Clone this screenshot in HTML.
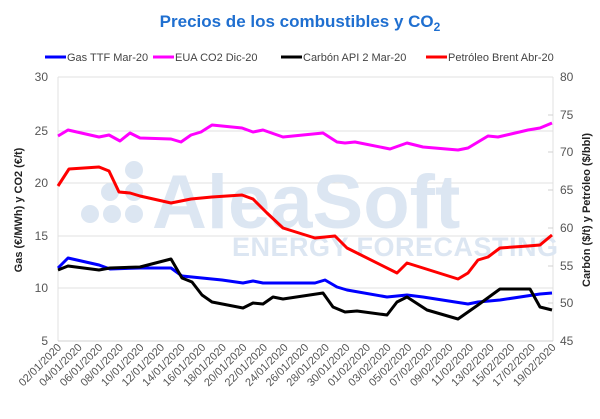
<!DOCTYPE html>
<html><head><meta charset="utf-8"><style>
body{margin:0;background:#fff;}
svg{font-family:"Liberation Sans",sans-serif;}
</style></head><body>
<svg width="600" height="414" viewBox="0 0 600 414">
<rect width="600" height="414" fill="#fff"/>
<text x="300" y="27" text-anchor="middle" font-size="17" font-weight="bold" fill="#1f6fd0">Precios de los combustibles y CO<tspan font-size="12" dy="4">2</tspan></text>
<!-- legend -->
<g font-size="11" fill="#444">
<line x1="45" y1="57" x2="66" y2="57" stroke="#0000ff" stroke-width="3"/><text x="67" y="61">Gas TTF Mar-20</text>
<line x1="153" y1="57" x2="174" y2="57" stroke="#ff00ff" stroke-width="3"/><text x="175" y="61">EUA CO2 Dic-20</text>
<line x1="281" y1="57" x2="302" y2="57" stroke="#000" stroke-width="3"/><text x="303" y="61">Carbón API 2 Mar-20</text>
<line x1="426" y1="57" x2="447" y2="57" stroke="#ff0000" stroke-width="3"/><text x="448" y="61">Petróleo Brent Abr-20</text>
</g>
<!-- grid -->
<g stroke="#e0e0e0" stroke-width="1">
<line x1="58" y1="77" x2="553" y2="77"/><line x1="58" y1="131" x2="553" y2="131"/>
<line x1="58" y1="183" x2="553" y2="183"/><line x1="58" y1="236" x2="553" y2="236"/>
<line x1="58" y1="288" x2="553" y2="288"/>
<line x1="58" y1="77" x2="58" y2="341"/><line x1="553" y1="77" x2="553" y2="341"/>
</g>
<line x1="58" y1="341" x2="553" y2="341" stroke="#d0d0d0"/>
<g stroke="#d0d0d0">
<line x1="553" y1="115" x2="548" y2="115"/><line x1="553" y1="152" x2="548" y2="152"/><line x1="553" y1="190" x2="548" y2="190"/><line x1="553" y1="228" x2="548" y2="228"/><line x1="553" y1="266" x2="548" y2="266"/><line x1="553" y1="303" x2="548" y2="303"/>
</g>
<!-- watermark -->
<g fill="#dce6f2">
<circle cx="134" cy="170" r="9"/><circle cx="110" cy="192" r="9"/><circle cx="134" cy="192" r="9"/><circle cx="90" cy="214" r="9"/><circle cx="112" cy="214" r="9"/><circle cx="134" cy="214" r="9"/>
<text x="152" y="228" font-size="76" font-weight="bold">AleaSoft</text>
<text x="232" y="256" font-size="27" font-weight="bold" letter-spacing="0.5">ENERGY FORECASTING</text>
</g>
<!-- y labels -->
<g font-size="12" fill="#555" text-anchor="end">
<text x="48" y="81">30</text><text x="48" y="135">25</text><text x="48" y="187">20</text><text x="48" y="240">15</text><text x="48" y="292">10</text><text x="48" y="345">5</text>
</g>
<g font-size="12" fill="#555">
<text x="560" y="81">80</text><text x="560" y="119">75</text><text x="560" y="156">70</text><text x="560" y="194">65</text><text x="560" y="232">60</text><text x="560" y="270">55</text><text x="560" y="307">50</text><text x="560" y="345">45</text>
</g>
<text transform="translate(22,210) rotate(-90)" text-anchor="middle" font-size="11" font-weight="bold" fill="#222">Gas (€/MWh) y CO2 (€/t)</text>
<text transform="translate(590,210) rotate(-90)" text-anchor="middle" font-size="11" font-weight="bold" fill="#222">Carbón ($/t) y Petróleo ($/bbl)</text>
<!-- series -->
<g fill="none" stroke-width="3" stroke-linejoin="round">
<polyline stroke="#ff00ff" points="58,136 68,130 99,137 109,135 120,141 130,133 140,138 171,139 181,142 191,135 201,132 212,125 242,128 253,132 263,130 283,137 323,133 337,142 345,143 355,142 390,149 407,143 423,147 458,150 468,148 488,136 498,137 528,130 540,128 552,123"/>
<polyline stroke="#ff0000" points="58,186 69,169 99,167 109,171 119,192 130,193 140,196 171,203 181,201 191,199 212,197 242,195 253,199 267,213 283,228 315,238 335,236 347,248 397,273 407,263 423,268 458,279 468,273 478,260 488,257 500,248 528,246 540,245 552,235"/>
<polyline stroke="#0000ff" points="58,268 68,258 99,265 110,269 140,268 171,268 182,276 202,278 222,280 243,283 253,281 263,283 315,283 325,280 337,287 347,290 387,297 407,295 423,297 468,304 478,302 500,300 540,294 552,293"/>
<polyline stroke="#000" points="58,270 68,266 99,270 110,268 140,267 171,259 182,278 192,282 202,295 212,302 243,308 253,303 263,304 273,297 283,299 323,293 333,307 345,312 357,311 387,315 397,302 407,297 427,310 458,319 468,312 478,305 500,289 530,289 540,307 552,310"/>
</g>
<!-- x labels -->
<g font-size="11" fill="#555" text-anchor="end">
<text transform="translate(62,348) rotate(-45)">02/01/2020</text>
<text transform="translate(82.6,348) rotate(-45)">04/01/2020</text>
<text transform="translate(103.2,348) rotate(-45)">06/01/2020</text>
<text transform="translate(123.8,348) rotate(-45)">08/01/2020</text>
<text transform="translate(144.4,348) rotate(-45)">10/01/2020</text>
<text transform="translate(165,348) rotate(-45)">12/01/2020</text>
<text transform="translate(185.6,348) rotate(-45)">14/01/2020</text>
<text transform="translate(206.2,348) rotate(-45)">16/01/2020</text>
<text transform="translate(226.8,348) rotate(-45)">18/01/2020</text>
<text transform="translate(247.4,348) rotate(-45)">20/01/2020</text>
<text transform="translate(268,348) rotate(-45)">22/01/2020</text>
<text transform="translate(288.6,348) rotate(-45)">24/01/2020</text>
<text transform="translate(309.2,348) rotate(-45)">26/01/2020</text>
<text transform="translate(329.8,348) rotate(-45)">28/01/2020</text>
<text transform="translate(350.4,348) rotate(-45)">30/01/2020</text>
<text transform="translate(371,348) rotate(-45)">01/02/2020</text>
<text transform="translate(391.6,348) rotate(-45)">03/02/2020</text>
<text transform="translate(412.2,348) rotate(-45)">05/02/2020</text>
<text transform="translate(432.8,348) rotate(-45)">07/02/2020</text>
<text transform="translate(453.4,348) rotate(-45)">09/02/2020</text>
<text transform="translate(474,348) rotate(-45)">11/02/2020</text>
<text transform="translate(494.6,348) rotate(-45)">13/02/2020</text>
<text transform="translate(515.2,348) rotate(-45)">15/02/2020</text>
<text transform="translate(535.8,348) rotate(-45)">17/02/2020</text>
<text transform="translate(556.4,348) rotate(-45)">19/02/2020</text>
</g>
</svg>
</body></html>
